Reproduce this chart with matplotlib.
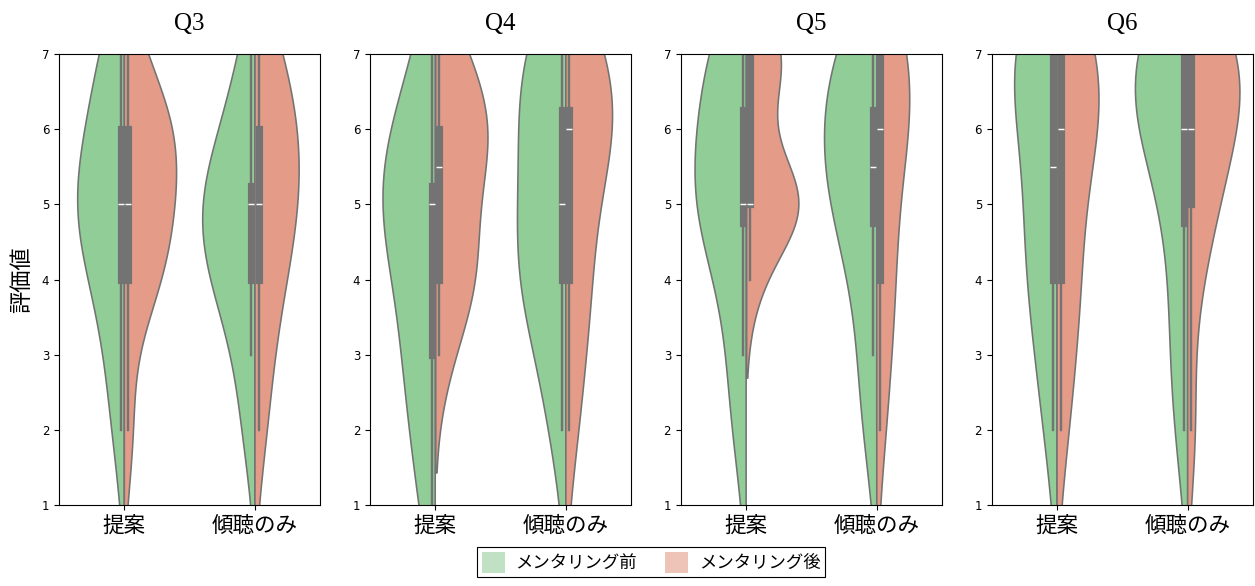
import matplotlib
matplotlib.use('Agg')
import matplotlib.pyplot as plt
import pandas as pd
import seaborn as sns
from matplotlib.patches import Patch

plt.rcParams['font.family'] = ['DejaVu Sans', 'Noto Sans CJK JP']

questions = ['Q3', 'Q4', 'Q5', 'Q6']
conditions = ['提案', '傾聴のみ']
phases = ['メンタリング前', 'メンタリング後']

# 7-point ratings, 12 respondents per cell
q3_teian_pre = [2, 3, 4, 4, 5, 5, 5, 5, 6, 6, 7, 7]
q3_teian_post = [2, 4, 4, 4, 5, 5, 5, 6, 6, 6, 6, 7]
q3_keicho_pre = [2, 3, 4, 4, 4, 5, 5, 5, 5, 6, 6, 7]
q3_keicho_post = [2, 3, 4, 4, 5, 5, 5, 6, 6, 6, 7, 7]

q4_teian_pre = [1, 2, 3, 3, 4, 5, 5, 5, 5, 6, 6, 7]
q4_teian_post = [3, 4, 4, 4, 5, 5, 6, 6, 6, 6, 7, 7]
q4_keicho_pre = [2, 3, 4, 4, 4, 5, 5, 6, 6, 7, 7, 7]
q4_keicho_post = [2, 3, 4, 4, 5, 6, 6, 6, 6, 7, 7, 7]

q5_teian_pre = [2, 3, 4, 5, 5, 5, 5, 6, 6, 7, 7, 7]
q5_teian_post = [4, 5, 5, 5, 5, 5, 5, 6, 7, 7, 7, 7]
q5_keicho_pre = [2, 3, 4, 5, 5, 5, 6, 6, 6, 7, 7, 7]
q5_keicho_post = [2, 3, 4, 4, 5, 6, 6, 6, 7, 7, 7, 7]

q6_teian_pre = [2, 3, 4, 4, 5, 5, 6, 7, 7, 7, 7, 7]
q6_teian_post = [2, 3, 4, 4, 5, 6, 6, 6, 7, 7, 7, 7]
q6_keicho_pre = [2, 3, 4, 5, 6, 6, 6, 7, 7, 7, 7, 7]
q6_keicho_post = [2, 4, 5, 5, 6, 6, 6, 7, 7, 7, 7, 7]

ratings = {
    'Q3': [q3_teian_pre, q3_teian_post, q3_keicho_pre, q3_keicho_post],
    'Q4': [q4_teian_pre, q4_teian_post, q4_keicho_pre, q4_keicho_post],
    'Q5': [q5_teian_pre, q5_teian_post, q5_keicho_pre, q5_keicho_post],
    'Q6': [q6_teian_pre, q6_teian_post, q6_keicho_pre, q6_keicho_post],
}

colors = {'メンタリング前': '#90cd97', 'メンタリング後': '#e49b88'}
legend_colors = ['#c0e1c4', '#efc4b8']

rows = []
for q in questions:
    cells = ratings[q]
    k = 0
    for cond in conditions:
        for ph in phases:
            for v in cells[k]:
                rows.append({'question': q, 'condition': cond, 'phase': ph, 'score': v})
            k += 1
df = pd.DataFrame(rows)

jp = ['Noto Sans CJK JP', 'DejaVu Sans']

fig, axes = plt.subplots(1, 4, figsize=(12.55, 5.86), dpi=100)
fig.subplots_adjust(left=59 / 1255, right=1253 / 1255, top=1 - 54 / 586,
                    bottom=1 - 505 / 586, wspace=0.19)

for i, (ax, q) in enumerate(zip(axes, questions)):
    sub = df[df['question'] == q]
    sns.violinplot(data=sub, x='condition', y='score', hue='phase',
                   order=conditions, hue_order=phases, split=True,
                   inner='box', palette=colors, saturation=1,
                   linecolor='#737373', linewidth=1.15, legend=False, ax=ax)
    ax.set_ylim(1, 7)
    ax.set_xlim(-0.5, 1.5)
    ax.set_title(q, fontsize=18, family=['Liberation Serif', 'DejaVu Serif'], pad=17)
    ax.set_xlabel('')
    ax.set_ylabel('評価値' if i == 0 else '', fontsize=16, family=jp, labelpad=6)
    ax.tick_params(axis='x', labelsize=15.5)
    ax.tick_params(axis='y', labelsize=8.5)
    for lab in ax.get_xticklabels():
        lab.set_family(jp)

handles = [Patch(facecolor=c, edgecolor='none', label=p) for c, p in zip(legend_colors, phases)]
leg = fig.legend(handles=handles, loc='lower center', ncol=2,
                 bbox_to_anchor=(651 / 1255, 0.0),
                 fancybox=False, edgecolor='black', framealpha=1,
                 prop={'family': jp, 'size': 12.5},
                 handlelength=1.35, handleheight=1.5, handletextpad=0.6,
                 columnspacing=1.6, borderpad=0.25)
leg.get_frame().set_linewidth(0.8)

plt.savefig('out.png', dpi=100)
plt.close()
